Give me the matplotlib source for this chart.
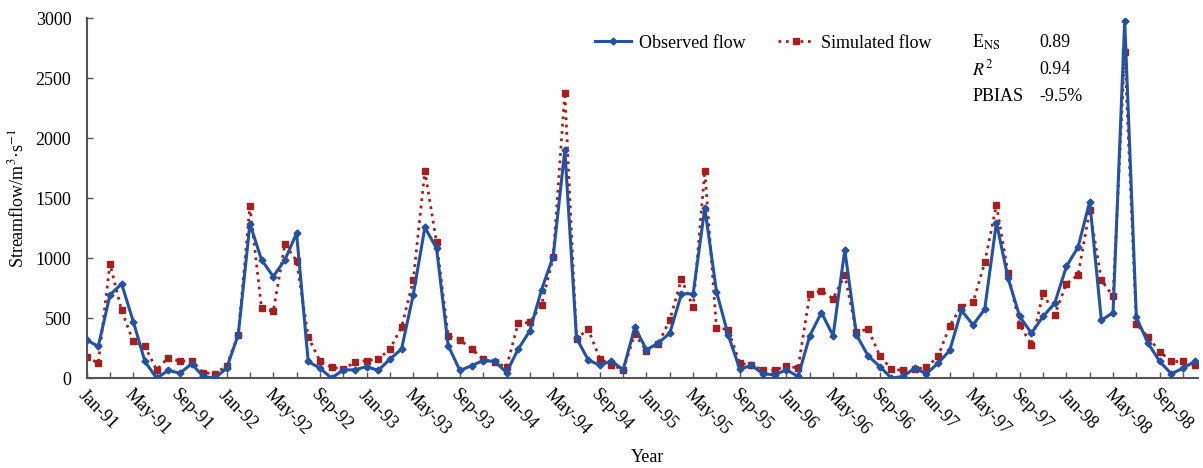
import numpy as np
import matplotlib.pyplot as plt

plt.rcParams["font.family"] = ["Liberation Serif", "DejaVu Serif"]
plt.rcParams["mathtext.fontset"] = "stix"

# Monthly flow, Jan-91 .. Dec-98 (m3/s)
observed = [
    319, 264, 694, 786, 472, 139, 0, 64, 42, 119, 14, 0,
    83, 361, 1286, 986, 847, 986, 1208, 139, 83, 0, 69, 69,
    97, 64, 158, 242, 694, 1256, 1083, 272, 64, 103, 147, 139,
    47, 242, 394, 736, 1014, 1903, 333, 153, 106, 144, 69, 425,
    236, 292, 375, 703, 703, 1420, 722, 361, 75, 106, 36, 28,
    69, 14, 353, 547, 353, 1069, 361, 186, 97, 0, 14, 83,
    36, 125, 231, 564, 444, 575, 1297, 833, 514, 375, 514, 625,
    931, 1092, 1472, 481, 547, 2981, 506, 292, 139, 36, 83, 139,
]
simulated = [
    175, 125, 953, 564, 306, 264, 69, 172, 139, 147, 47, 36,
    103, 361, 1431, 583, 556, 1117, 978, 342, 144, 89, 78, 131,
    147, 158, 242, 425, 814, 1728, 1131, 353, 319, 244, 158, 131,
    92, 458, 464, 611, 1006, 2381, 328, 408, 161, 111, 69, 367,
    228, 283, 486, 825, 592, 1728, 422, 403, 125, 106, 69, 64,
    103, 83, 703, 728, 661, 861, 383, 411, 186, 75, 64, 75,
    89, 181, 436, 597, 631, 964, 1444, 875, 444, 278, 708, 528,
    786, 861, 1403, 819, 681, 2722, 453, 342, 222, 139, 139, 111,
]
months = ["Jan", "May", "Sep"]
years = list(range(91, 99))
stat_names = [r"E$_{\rm NS}$", r"$R^2$", "PBIAS"]
stat_values = ["0.89", "0.94", "-9.5%"]

blue = "#2352a3"
red = "#a3201f"
axis_grey = "#555555"

fig = plt.figure(figsize=(12.03, 4.68), dpi=100)
ax = fig.add_axes([0.072, 0.192, 0.924, 0.769])

x = np.arange(len(observed))
ax.plot(x, observed, color=blue, lw=2.2, marker="D", ms=3.5,
        label="Observed flow", zorder=3)
ax.plot(x, simulated, color=red, lw=2.0, ls=":", marker="s", ms=5,
        label="Simulated flow", zorder=2)

ax.set_xlim(0, 95.3)
ax.set_ylim(0, 3000)
ax.set_yticks(np.arange(0, 3001, 500))

tick_pos = np.arange(0, 96, 2)
labels = []
for p in tick_pos:
    if p % 4 == 0:
        labels.append(f"{months[(p % 12) // 4]}-{years[p // 12]}")
    else:
        labels.append("")
ax.set_xticks(tick_pos)
ax.set_xticklabels(labels, rotation=-45, ha="left", va="top",
                   rotation_mode="anchor")

for s in ["top", "right"]:
    ax.spines[s].set_visible(False)
for s in ["left", "bottom"]:
    ax.spines[s].set_color(axis_grey)
    ax.spines[s].set_linewidth(1.5)
ax.tick_params(axis="both", direction="in", length=4, width=1,
               color=axis_grey, labelsize=13)
ax.tick_params(axis="x", pad=6)
ax.tick_params(axis="y", pad=11)

ax.set_ylabel(r"Streamflow/m$^{3}$·s$^{-1}$", fontsize=13, labelpad=6)
fig.text(0.538, 0.005, "Year", ha="center", va="bottom", fontsize=13)

ax.legend(loc="upper left", bbox_to_anchor=(0.443, 1.0), ncol=2,
          frameon=False, fontsize=13, handlelength=2.0, columnspacing=1.8,
          handletextpad=0.4)

for i, (n, v) in enumerate(zip(stat_names, stat_values)):
    yy = 0.91 - i * 0.058
    fig.text(0.808, yy, n, fontsize=13, va="center")
    fig.text(0.864, yy, v, fontsize=13, va="center")

fig.savefig("out.png", dpi=100)
